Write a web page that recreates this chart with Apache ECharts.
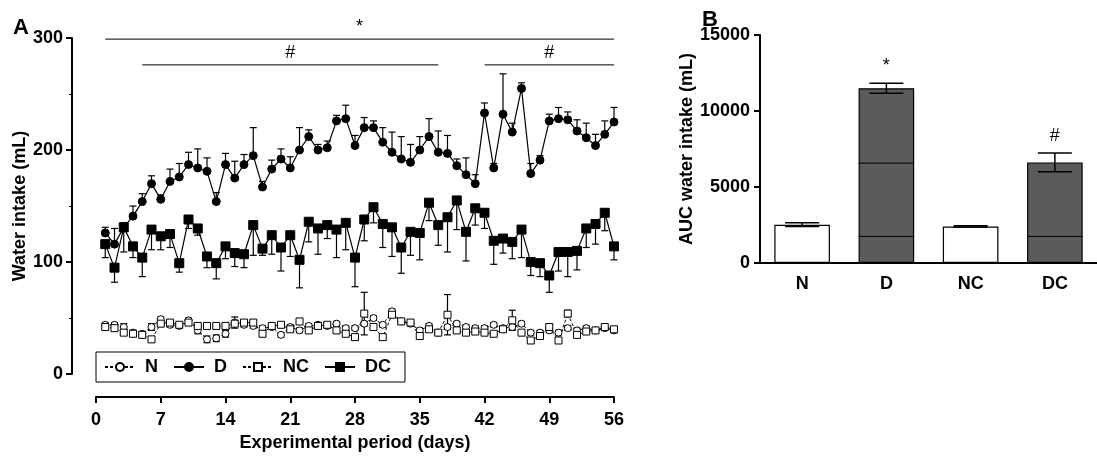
<!DOCTYPE html>
<html>
<head>
<meta charset="utf-8">
<script src="https://cdn.jsdelivr.net/npm/echarts@6/dist/echarts.min.js"></script>
<style>
  html, body { margin: 0; background: #fff; }
  #chart { width: 1097px; height: 457px; }
</style>
</head>
<body>
<div id="chart"></div>
<script>
// panel A: daily water intake (mL), days 1..56
const days = Array.from({ length: 56 }, (_, i) => i + 1);
const nMean = [44, 44, 42, 37, 36, 42, 49, 44, 43, 48, 39, 31, 32, 36, 46, 44, 43, 41, 42, 35, 42, 39, 43, 44, 43, 45, 41, 41,
  45, 50, 44, 56, 47, 45, 39, 43, 37, 42, 45, 42, 41, 41, 44, 41, 42, 45, 37, 37, 39, 37, 41, 39, 41, 39, 41, 39];
const nErr = [2, 2, 3, 2, 2, 3, 2, 2, 2, 2, 3, 3, 3, 3, 5, 2, 2, 2, 2, 2, 2, 2, 2, 2, 2, 2, 2, 2,
  2, 2, 2, 2, 2, 2, 2, 2, 2, 2, 2, 2, 2, 2, 2, 2, 2, 2, 2, 2, 2, 2, 2, 2, 2, 2, 2, 2];
const dMean = [126, 116, 131, 141, 154, 170, 156, 172, 176, 187, 184, 181, 154, 187, 175, 187, 195, 167, 183, 192, 184, 200, 212, 200,
  202, 226, 228, 204, 220, 220, 207, 198, 192, 189, 200, 212, 198, 197, 186, 178, 170, 233, 184, 232, 216, 255, 179, 191, 226,
  228, 227, 217, 211, 204, 214, 225];
const dErr = [5, 14, 4, 9, 7, 7, 4, 11, 12, 11, 17, 12, 8, 10, 15, 9, 25, 5, 8, 9, 10, 20, 6, 5,
  6, 5, 12, 9, 9, 6, 13, 18, 20, 16, 12, 16, 19, 16, 6, 15, 8, 9, 4, 36, 8, 5, 9, 4, 6,
  10, 7, 10, 13, 10, 12, 13];
const ncMean = [42, 41, 37, 36, 35, 31, 45, 46, 44, 46, 43, 43, 43, 43, 45, 46, 46, 36, 43, 44, 40, 47, 39, 43, 44, 39, 36, 33,
  54, 42, 33, 53, 47, 46, 34, 40, 37, 53, 39, 37, 38, 37, 36, 40, 48, 37, 30, 34, 42, 30, 54, 35, 38, 39, 42, 40];
const ncErr = [2, 2, 2, 2, 2, 2, 2, 2, 2, 2, 2, 2, 2, 2, 2, 2, 2, 2, 2, 2, 2, 2, 2, 2, 2, 2, 2, 2,
  19, 2, 2, 2, 2, 2, 2, 2, 2, 18, 2, 2, 2, 2, 2, 2, 9, 2, 2, 2, 2, 2, 3, 2, 2, 2, 2, 2];
const dcMean = [116, 95, 131, 114, 104, 129, 123, 125, 99, 138, 130, 105, 99, 114, 108, 107, 133, 112, 124, 113, 124, 102, 136, 130,
  133, 129, 135, 104, 138, 149, 134, 131, 113, 127, 126, 153, 133, 140, 155, 127, 148, 144, 119, 121, 118, 129, 100, 99, 88,
  109, 109, 110, 130, 134, 144, 114];
const dcErr = [12, 13, 22, 10, 17, 18, 12, 12, 8, 8, 6, 10, 14, 11, 12, 12, 27, 6, 17, 21, 19, 25, 18, 23,
  12, 25, 24, 26, 19, 14, 21, 26, 23, 21, 24, 16, 18, 31, 26, 26, 15, 14, 21, 13, 15, 25, 12, 12, 15,
  17, 22, 17, 17, 18, 16, 12];

// significance spans above panel A: [from day, to day, y]
const sigSpans = [[1, 56, 299], [5, 37, 276], [42, 56, 276]];
const sigLabels = ['*', '#', '#'];

// panel B: AUC water intake (mL)
const aucCats = ['N', 'D', 'NC', 'DC'];
const aucMean = [2520, 11500, 2405, 6620];
const aucSem = [120, 330, 40, 620];
const aucMarks = ['', '*', '', '#'];
const aucInner = [[1, 1750], [1, 6570], [3, 1750]];

const FONT = '"Liberation Sans", Arial, sans-serif';
const lab = { fontFamily: FONT, fontWeight: 'bold', fontSize: 18, color: '#000' };
const axLine = { onZero: false, lineStyle: { color: '#000', width: 2 } };

const myChart = echarts.init(document.getElementById('chart'));

function pairs(vals) {
  return days.map((d, i) => [d, vals[i]]);
}

function lineSeries(name, vals, symbol, size, filled, dashed) {
  return {
    name,
    type: 'line',
    data: pairs(vals),
    symbol,
    symbolSize: size,
    showAllSymbol: true,
    z: filled ? 5 : 4,
    lineStyle: { color: '#000', width: filled ? 1.2 : 1, type: dashed ? [3, 2] : 'solid' },
    itemStyle: { color: filled ? '#000' : '#fff', borderColor: '#000', borderWidth: 1 },
    emphasis: { disabled: true },
  };
}

function errSeries(vals, errs, dirs) {
  return {
    type: 'custom',
    z: 3,
    silent: true,
    data: days.map((d, i) => [d, vals[i], errs[i]]),
    encode: { x: 0, y: 1 },
    renderItem(params, api) {
      const x = api.value(0);
      const m = api.value(1);
      const e = api.value(2);
      const p0 = api.coord([x, m]);
      const children = [];
      dirs.forEach((s) => {
        const p1 = api.coord([x, m + s * e]);
        children.push({ type: 'line', shape: { x1: p0[0], y1: p0[1], x2: p1[0], y2: p1[1] }, style: { stroke: '#000', lineWidth: 1.2 } });
        children.push({ type: 'line', shape: { x1: p1[0] - 3.5, y1: p1[1], x2: p1[0] + 3.5, y2: p1[1] }, style: { stroke: '#000', lineWidth: 1.2 } });
      });
      return { type: 'group', children };
    },
  };
}

const option = {
  animation: false,
  backgroundColor: '#fff',
  title: [
    { text: 'A', left: 8, top: 12, textStyle: { fontFamily: FONT, fontWeight: 'bold', fontSize: 22, color: '#000' } },
    { text: 'B', left: 697, top: 4, textStyle: { fontFamily: FONT, fontWeight: 'bold', fontSize: 22, color: '#000' } },
  ],
  legend: {
    data: ['N', 'D', 'NC', 'DC'],
    left: 96,
    top: 352,
    orient: 'horizontal',
    padding: [6, 14, 6, 8],
    itemWidth: 30,
    itemHeight: 10,
    itemGap: 15,
    borderColor: '#000',
    borderWidth: 1,
    textStyle: { ...lab, padding: [0, 0, 0, 5] },
  },
  grid: [
    { left: 96, right: 483, top: 38, bottom: 81 },
    { left: 760, right: -6, top: 35, bottom: 194 },
  ],
  xAxis: [
    {
      gridIndex: 0,
      type: 'value',
      min: 0,
      max: 56,
      interval: 7,
      offset: 23,
      name: 'Experimental period (days)',
      nameLocation: 'middle',
      nameGap: 33,
      nameTextStyle: { ...lab },
      axisLine: axLine,
      axisTick: { length: 6, lineStyle: { width: 2, color: '#000' } },
      axisLabel: { ...lab, margin: 14 },
      splitLine: { show: false },
    },
    {
      gridIndex: 1,
      type: 'category',
      data: aucCats,
      axisLine: axLine,
      axisTick: { show: false },
      axisLabel: { ...lab, margin: 12 },
    },
  ],
  yAxis: [
    {
      gridIndex: 0,
      type: 'value',
      min: 0,
      max: 300,
      interval: 100,
      offset: 24,
      name: 'Water intake (mL)',
      nameLocation: 'middle',
      nameGap: 15,
      nameTextStyle: { ...lab },
      axisLine: { show: true, ...axLine },
      axisTick: { show: true, length: 6, lineStyle: { width: 2, color: '#000' } },
      minorTick: { show: true, splitNumber: 2, length: 3, lineStyle: { color: '#000', width: 1 } },
      axisLabel: { ...lab, margin: 9 },
      splitLine: { show: false },
    },
    {
      gridIndex: 1,
      type: 'value',
      min: 0,
      max: 15000,
      interval: 5000,
      name: 'AUC water intake (mL)',
      nameLocation: 'middle',
      nameGap: 34,
      nameTextStyle: { ...lab },
      axisLine: { show: true, ...axLine },
      axisTick: { show: true, length: 6, lineStyle: { width: 2, color: '#000' } },
      axisLabel: { ...lab, margin: 10, formatter: (v) => String(v) },
      splitLine: { show: false },
    },
  ],
  series: [
    errSeries(nMean, nErr, [1, -1]),
    errSeries(ncMean, ncErr, [1, -1]),
    errSeries(dMean, dErr, [1]),
    errSeries(dcMean, dcErr, [-1]),
    lineSeries('N', nMean, 'circle', 7, false, true),
    lineSeries('D', dMean, 'circle', 8, true, false),
    lineSeries('NC', ncMean, 'rect', 7, false, true),
    lineSeries('DC', dcMean, 'rect', 9, true, false),
    {
      type: 'custom',
      silent: true,
      data: sigSpans,
      encode: { x: [0, 1], y: 2 },
      clip: false,
      renderItem(params, api) {
        const a = api.coord([api.value(0), api.value(2)]);
        const b = api.coord([api.value(1), api.value(2)]);
        return {
          type: 'group',
          children: [
            { type: 'line', shape: { x1: a[0], y1: a[1], x2: b[0], y2: b[1] }, style: { stroke: '#000', lineWidth: 1 } },
            {
              type: 'text',
              style: {
                text: sigLabels[params.dataIndex],
                x: (a[0] + b[0]) / 2,
                y: a[1] - 12,
                align: 'center',
                verticalAlign: 'middle',
                font: '18px ' + FONT,
                fill: '#000',
              },
            },
          ],
        };
      },
    },
    {
      type: 'bar',
      xAxisIndex: 1,
      yAxisIndex: 1,
      barWidth: '66%',
      data: aucMean.map((v, i) => ({
        value: v,
        itemStyle: { color: i % 2 ? '#5b5b5b' : '#fff', borderColor: '#000', borderWidth: 1.2 },
      })),
      emphasis: { disabled: true },
    },
    {
      type: 'custom',
      xAxisIndex: 1,
      yAxisIndex: 1,
      silent: true,
      z: 3,
      data: aucInner,
      encode: { x: 0, y: 1 },
      renderItem(params, api) {
        const p = api.coord([api.value(0), api.value(1)]);
        const w = api.size([1, 0])[0] * 0.66 / 2;
        return { type: 'line', shape: { x1: p[0] - w, y1: p[1], x2: p[0] + w, y2: p[1] }, style: { stroke: '#000', lineWidth: 1 } };
      },
    },
    {
      type: 'custom',
      xAxisIndex: 1,
      yAxisIndex: 1,
      silent: true,
      z: 4,
      clip: false,
      data: aucMean.map((v, i) => [i, v, aucSem[i]]),
      encode: { x: 0, y: 1 },
      renderItem(params, api) {
        const i = api.value(0);
        const m = api.value(1);
        const e = api.value(2);
        const hi = api.coord([i, m + e]);
        const lo = api.coord([i, m - e]);
        const cw = 17;
        return {
          type: 'group',
          children: [
            { type: 'line', shape: { x1: hi[0], y1: hi[1], x2: lo[0], y2: lo[1] }, style: { stroke: '#000', lineWidth: 1.5 } },
            { type: 'line', shape: { x1: hi[0] - cw, y1: hi[1], x2: hi[0] + cw, y2: hi[1] }, style: { stroke: '#000', lineWidth: 1.5 } },
            { type: 'line', shape: { x1: lo[0] - cw, y1: lo[1], x2: lo[0] + cw, y2: lo[1] }, style: { stroke: '#000', lineWidth: 1.5 } },
            {
              type: 'text',
              style: {
                text: aucMarks[params.dataIndex],
                x: hi[0],
                y: hi[1] - 17,
                align: 'center',
                verticalAlign: 'middle',
                font: '18px ' + FONT,
                fill: '#000',
              },
            },
          ],
        };
      },
    },
  ],
};

myChart.setOption(option);
</script>
</body>
</html>
